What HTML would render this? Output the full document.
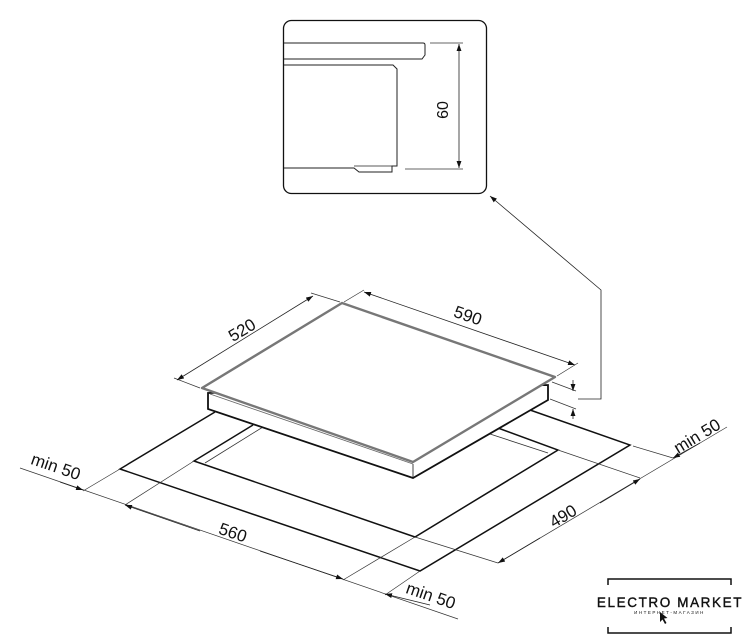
<!DOCTYPE html>
<html><head><meta charset="utf-8"><style>
html,body{margin:0;padding:0;background:#fff;width:748px;height:640px;overflow:hidden}
text{font-family:"Liberation Sans",sans-serif;fill:#111}
</style></head><body>
<svg width="748" height="640" viewBox="0 0 748 640" xmlns="http://www.w3.org/2000/svg">
<defs>
<marker id="a" viewBox="0 0 10 10" refX="10" refY="5" markerWidth="7" markerHeight="7" orient="auto-start-reverse" markerUnits="userSpaceOnUse"><path d="M0,1.5 L10,5 L0,8.5 z" fill="#111"/></marker>
</defs>
<!-- inset box -->
<rect x="283.5" y="20.5" width="203" height="173" rx="8" fill="#fff" stroke="#111" stroke-width="1.3"/>
<path d="M284,43 H423 Q425,43 425,45 V55 L422,59 H284" fill="none" stroke="#222" stroke-width="1"/>
<path d="M284,65 H393 L397,69 V166 H392 V172 H359 L354,168 H284" fill="none" stroke="#222" stroke-width="1"/>
<line x1="354" y1="166" x2="397" y2="166" stroke="#222" stroke-width="0.8"/>
<line x1="430" y1="43" x2="463" y2="43" stroke="#333" stroke-width="0.7"/>
<line x1="405" y1="169" x2="463" y2="169" stroke="#333" stroke-width="0.7"/>
<line x1="459" y1="44" x2="459" y2="168" stroke="#222" stroke-width="0.8" marker-start="url(#a)" marker-end="url(#a)"/>
<text x="0" y="0" font-size="16" transform="translate(448,110) rotate(-90)" text-anchor="middle">60</text>

<!-- leader -->
<polyline points="578,399 601,399 601,290 490,196" fill="none" stroke="#222" stroke-width="0.8" marker-end="url(#a)"/>

<!-- outer cutout -->
<g stroke="#111" stroke-width="1.5" fill="none">
<polyline points="215,412 120,469 420,571 630,445 530,410"/>
<polyline points="253,425 194,461 415,537 558,450 498,428"/>
</g>
<g stroke="#333" stroke-width="0.8" fill="none">
<line x1="263" y1="427" x2="205" y2="463"/>
<line x1="490" y1="434" x2="548" y2="453"/>
</g>

<!-- hob -->
<path d="M208,393 V409 L413,478 L548,400 V385 Z" fill="#fff" stroke="#111" stroke-width="1.8"/>
<line x1="210" y1="394" x2="413" y2="464" stroke="#666" stroke-width="0.8"/>
<line x1="413" y1="464" x2="413" y2="477" stroke="#444" stroke-width="1"/>
<path d="M202,388 L342,303 L555,377 L413,462 Z" fill="#fff" stroke="#777" stroke-width="2.4" stroke-linejoin="round"/>

<!-- 520 / 590 -->
<g stroke="#333" stroke-width="0.7">
<line x1="200" y1="388" x2="174" y2="378"/>
<line x1="340" y1="302" x2="311" y2="293"/>
<line x1="344" y1="302" x2="364" y2="290"/>
<line x1="557" y1="376" x2="578" y2="363"/>
</g>
<line x1="177" y1="380" x2="313" y2="296" stroke="#222" stroke-width="0.8" marker-start="url(#a)" marker-end="url(#a)"/>
<line x1="364" y1="292" x2="575" y2="365" stroke="#222" stroke-width="0.8" marker-start="url(#a)" marker-end="url(#a)"/>
<text font-size="17" transform="translate(245,335) rotate(-31)" text-anchor="middle">520</text>
<text font-size="17" transform="translate(466,321) rotate(19)" text-anchor="middle">590</text>

<!-- small height dims -->
<g stroke="#333" stroke-width="0.7">
<line x1="552" y1="382" x2="576" y2="391"/>
<line x1="550" y1="399" x2="576" y2="409"/>
</g>
<line x1="573" y1="380" x2="573" y2="391" stroke="#222" stroke-width="0.8" marker-end="url(#a)"/>
<line x1="573" y1="419" x2="573" y2="409" stroke="#222" stroke-width="0.8" marker-end="url(#a)"/>

<!-- left/bottom dims -->
<g stroke="#333" stroke-width="0.7">
<line x1="120" y1="469" x2="83" y2="491"/>
<line x1="194" y1="461" x2="125" y2="505"/>
<line x1="415" y1="537" x2="343" y2="580"/>
<line x1="420" y1="571" x2="385" y2="595"/>
<line x1="20" y1="468" x2="458" y2="619"/>
<line x1="633" y1="446" x2="673" y2="458"/>
<line x1="558" y1="450" x2="640" y2="478"/>
<line x1="415" y1="537" x2="498" y2="563"/>
<line x1="727" y1="427" x2="498" y2="563"/>
</g>
<line x1="60" y1="482" x2="83" y2="490" stroke="#222" stroke-width="0.8" marker-end="url(#a)"/>
<line x1="200" y1="531" x2="125" y2="505" stroke="#222" stroke-width="0.8" marker-end="url(#a)"/>
<line x1="260" y1="551" x2="343" y2="579" stroke="#222" stroke-width="0.8" marker-end="url(#a)"/>
<line x1="430" y1="605" x2="385" y2="594" stroke="#222" stroke-width="0.8" marker-end="url(#a)"/>
<line x1="700" y1="443" x2="673" y2="458" stroke="#222" stroke-width="0.8" marker-end="url(#a)"/>
<line x1="600" y1="503" x2="640" y2="479" stroke="#222" stroke-width="0.8" marker-end="url(#a)"/>
<line x1="540" y1="538" x2="498" y2="563" stroke="#222" stroke-width="0.8" marker-end="url(#a)"/>

<text font-size="17" transform="translate(54,472) rotate(19)" text-anchor="middle">min 50</text>
<text font-size="17" transform="translate(231,538) rotate(19)" text-anchor="middle">560</text>
<text font-size="17" transform="translate(429,601) rotate(19)" text-anchor="middle">min 50</text>
<text font-size="17" transform="translate(700,441) rotate(-31)" text-anchor="middle">min 50</text>
<text font-size="17" transform="translate(566,521) rotate(-31)" text-anchor="middle">490</text>

<!-- logo -->
<g stroke="#111" stroke-width="1.5" fill="none">
<polyline points="608,585 608,579 731,579 731,585"/>
<polyline points="608,627 608,633 731,633 731,627"/>
</g>
<text x="670" y="607" font-size="13.5" text-anchor="middle" letter-spacing="1.6" stroke="#111" stroke-width="0.4">ELECTRO MARKET</text>
<text x="669.5" y="614" font-size="4.5" text-anchor="middle" letter-spacing="1.5" fill="#444">ИНТЕРНЕТ-МАГАЗИН</text>
<path d="M660,612 L660,622 L662.5,619.5 L665,624 L666.5,623 L664,618.5 L667.5,618 Z" fill="#111"/>
</svg>
</body></html>
